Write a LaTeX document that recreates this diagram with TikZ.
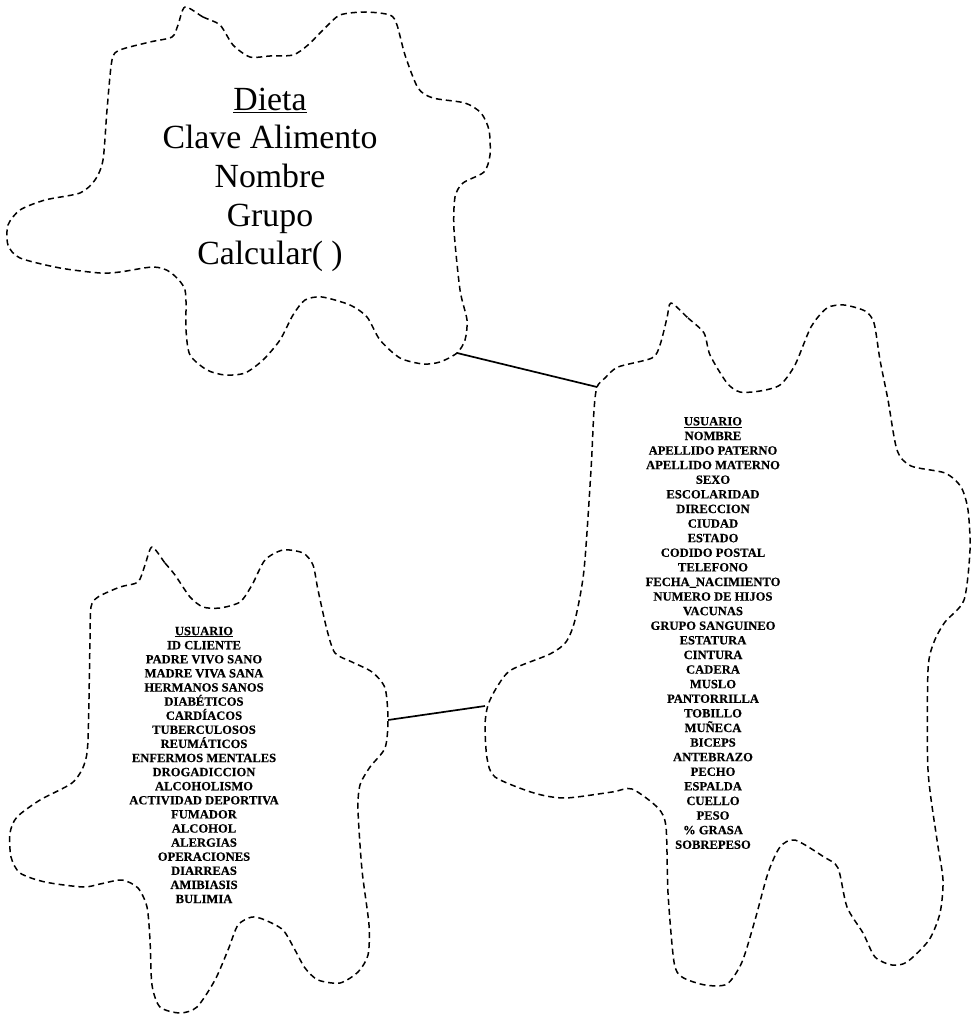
\documentclass[tikz,border=0pt]{standalone}
\usepackage{fontspec}
\setmainfont{Liberation Serif}
\newfontfamily\listfont{Liberation Serif}[BoldFeatures={FakeBold=0.4}]
\begin{document}
\begin{tikzpicture}[x=1pt,y=-1pt,
  blob/.style={draw=black,line width=1.5pt,dash pattern=on 6pt off 4pt,line join=round},
  link/.style={draw=black,line width=1.7pt},
  bigtxt/.style={align=center,inner sep=0pt,font=\fontsize{33.8}{38.6}\selectfont},
  listtxt/.style={align=center,inner sep=0pt,font=\listfont\bfseries\fontsize{12.6}{14.6}\selectfont},
  listtxtb/.style={align=center,inner sep=0pt,font=\listfont\bfseries\fontsize{12.6}{14.1}\selectfont}]
\useasboundingbox (0,0) rectangle (974,1019);
% top blob (Dieta)
\draw[blob] plot[smooth cycle,tension=0.45] coordinates {
(185,7) (203,17) (220,25) (233,45) (250,57) (270,56) (293,55) (308,45) (325,28) (340,15)
(365,12) (390,15) (397,25) (405,55) (418,88) (433,98) (465,103) (481,113) (489,130) (490,155)
(484,172) (463,183) (455,197) (454,230) (460,290) (467,320) (465,340) (457,353) (440,362) (423,364)
(400,358) (380,340) (367,317) (350,305) (322,297) (305,300) (293,315) (280,340) (263,360) (245,373)
(225,375) (207,370) (190,355) (186,330) (185,290) (170,272) (153,267) (120,272) (100,273) (60,268)
(20,258) (8,245) (8,225) (20,210) (45,200) (80,193) (95,180) (103,160) (107,110) (112,60)
(120,50) (150,42) (172,37) (178,25)};
% lower-left blob
\draw[blob] plot[smooth cycle,tension=0.45] coordinates {
(152,547) (165,563) (175,575) (190,597) (203,607) (220,608) (240,602) (252,585) (265,560) (283,550)
(303,553) (313,565) (318,590) (327,630) (335,653) (352,662) (372,672) (385,688) (388,720) (385,748)
(370,767) (360,785) (358,810) (362,870) (369,925) (368,955) (358,972) (340,983) (318,980) (305,968)
(295,950) (283,930) (265,920) (252,917) (238,925) (228,950) (215,980) (197,1007) (180,1013) (160,1007)
(152,985) (150,940) (147,907) (138,888) (122,880) (100,884) (83,887) (45,882) (20,873) (11,857)
(10,833) (17,817) (40,800) (72,783) (84,765) (88,740) (90,640) (91,607) (98,597) (120,587)
(138,582) (145,565)};
% right blob
\draw[blob] plot[smooth cycle,tension=0.45] coordinates {
(671,303) (688,318) (704,333) (710,355) (727,383) (740,392) (760,391) (780,385) (795,365) (811,327)
(827,308) (844,305) (865,311) (874,323) (880,360) (888,400) (897,450) (911,466) (945,473) (961,487)
(968,510) (970,550) (964,600) (945,622) (934,642) (928,670) (928,770) (937,840) (943,880) (940,913)
(929,940) (907,962) (892,965) (875,957) (863,933) (847,907) (838,868) (824,857) (795,840) (780,847)
(768,873) (755,920) (742,962) (727,984) (705,985) (682,977) (674,962) (668,893) (666,827) (658,808)
(632,789) (612,792) (565,798) (534,793) (495,777) (487,758) (485,725) (488,705) (497,687) (511,670)
(550,654) (566,642) (575,620) (584,570) (591,470) (594,410) (597,387) (605,378) (618,367) (652,358)
(660,345) (667,318)};
% attachment points
\coordinate (dietaR) at (457,353);
\coordinate (usrTopL) at (597,387);
\coordinate (antR) at (388,720);
\coordinate (usrL) at (485,706);
\draw[link] (dietaR) -- (usrTopL);
\draw[link] (antR) -- (usrL);
% texts
\node[bigtxt] (dieta) at (270,180) {\underline{Dieta}\\Clave Alimento\\Nombre\\Grupo\\Calcular( )};
\node[listtxt] (usuario) at (713,633) {\underline{USUARIO}\\NOMBRE\\APELLIDO PATERNO\\APELLIDO MATERNO\\SEXO\\ESCOLARIDAD\\DIRECCION\\CIUDAD\\ESTADO\\CODIDO POSTAL\\TELEFONO\\FECHA\_NACIMIENTO\\NUMERO DE HIJOS\\VACUNAS\\GRUPO SANGUINEO\\ESTATURA\\CINTURA\\CADERA\\MUSLO\\PANTORRILLA\\TOBILLO\\MUÑECA\\BICEPS\\ANTEBRAZO\\PECHO\\ESPALDA\\CUELLO\\PESO\\\% GRASA\\SOBREPESO};
\node[listtxtb] (antecedentes) at (204,765) {\underline{USUARIO}\\ID CLIENTE\\PADRE VIVO SANO\\MADRE VIVA SANA\\HERMANOS SANOS\\DIABÉTICOS\\CARDÍACOS\\TUBERCULOSOS\\REUMÁTICOS\\ENFERMOS MENTALES\\DROGADICCION\\ALCOHOLISMO\\ACTIVIDAD DEPORTIVA\\FUMADOR\\ALCOHOL\\ALERGIAS\\OPERACIONES\\DIARREAS\\AMIBIASIS\\BULIMIA};
\end{tikzpicture}
\end{document}
